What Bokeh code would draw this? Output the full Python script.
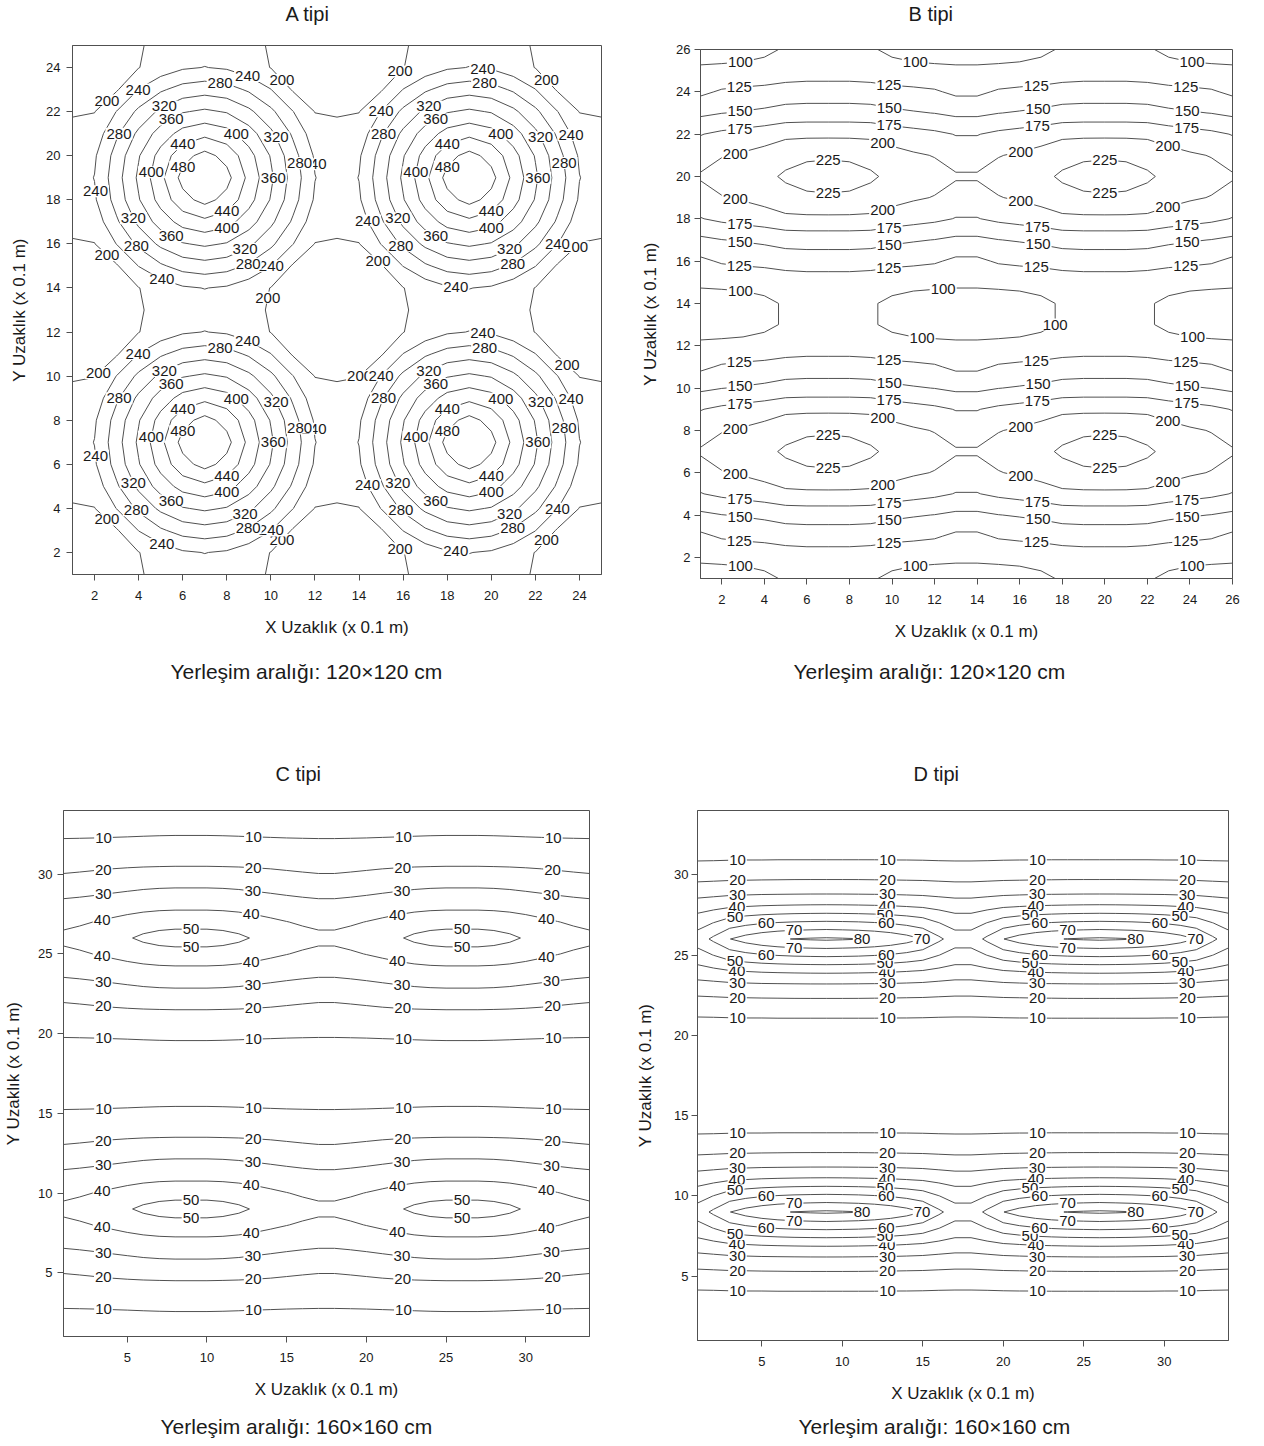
import numpy as np
import contourpy
from bokeh.plotting import figure
from bokeh.layouts import column, row
from bokeh.models import Range1d, FixedTicker, ColumnDataSource, Title
from bokeh.core.properties import value
from bokeh.embed import file_html
from bokeh.resources import INLINE

FONT = "Liberation Sans"
INK = "#1a1a1a"
LINE = "#505050"
AXIS_X = "X Uzaklık (x 0.1 m)"
AXIS_Y = "Y Uzaklık (x 0.1 m)"

# ---------------- A tipi (one repeating cell, offsets 0..6 from a peak) ----------------
A_title = "A tipi"
A_caption = "Yerleşim aralığı: 120×120 cm"
A_levels = [200, 240, 280, 320, 360, 400, 440, 480]
A_ticks = [2, 4, 6, 8, 10, 12, 14, 16, 18, 20, 22, 24]
A_span = (1, 25)
A_period, A_peak = 12, 7
A_dy0 = [510, 493, 430, 367, 304, 241, 222]
A_dy1 = [493, 467, 415, 357, 296, 235, 218]
A_dy2 = [430, 415, 378, 329, 274, 217, 206]
A_dy3 = [367, 357, 329, 289, 241, 199, 198]
A_dy4 = [304, 296, 274, 241, 196, 185, 185]
A_dy5 = [241, 235, 217, 199, 185, 175, 175]
A_dy6 = [222, 218, 206, 198, 185, 175, 168]

# ---------------- B tipi ----------------
B_title = "B tipi"
B_caption = "Yerleşim aralığı: 120×120 cm"
B_levels = [100, 125, 150, 175, 200, 225]
B_ticks = [2, 4, 6, 8, 10, 12, 14, 16, 18, 20, 22, 24, 26]
B_span = (1, 26)
B_period, B_peak = 13, 7
B_dy0 = [236, 234, 228, 220, 214, 208, 203]
B_dy1 = [222, 221, 218, 209, 203, 199, 188]
B_dy2 = [195, 195, 194, 188, 184, 180, 174]
B_dy3 = [160, 160, 159, 155, 152, 149.5, 145]
B_dy4 = [138, 138, 137, 133, 131, 128, 120]
B_dy5 = [112, 112, 110, 107, 105, 104, 103]
B_dy6 = [104, 104, 102, 96, 93, 92, 92]

# ---------------- C tipi ----------------
C_title = "C tipi"
C_caption = "Yerleşim aralığı: 160×160 cm"
C_levels = [10, 20, 30, 40, 50]
C_ticks = [5, 10, 15, 20, 25, 30]
C_span = (1, 34)
C_period, C_peak = 17, 9
C_dy0 = [55, 55, 54, 52, 49, 46, 44, 43, 42]
C_dy1 = [46, 46, 45.5, 44.5, 43, 41.5, 40.2, 39, 38]
C_dy2 = [38, 38, 37.8, 37.3, 36.6, 35.8, 35, 34.2, 33.5]
C_dy3 = [31, 31, 30.8, 30.3, 29.5, 28.6, 27.6, 26.7, 26]
C_dy4 = [24, 24, 23.8, 23.5, 23, 22.4, 21.6, 20.9, 20.3]
C_dy5 = [16, 16, 15.9, 15.8, 15.6, 15.3, 14.9, 14.4, 14]
C_dy6 = [11, 11, 11, 11, 11, 11, 11, 11, 11]
C_dy7 = [8.7, 8.7, 8.6, 8.4, 8.1, 7.8, 7.4, 7.1, 6.8]
C_dy8 = [6.5, 6.5, 6.4, 6.3, 6.0, 5.8, 5.5, 5.2, 5.0]

# ---------------- D tipi ----------------
D_title = "D tipi"
D_caption = "Yerleşim aralığı: 160×160 cm"
D_levels = [10, 20, 30, 40, 50, 60, 70, 80]
D_ticks = [5, 10, 15, 20, 25, 30]
D_span = (1, 34)
D_period, D_peak = 17, 9
D_dy0 = [81.5, 81, 80.3, 79, 77, 74, 69.8, 62, 55]
D_dy1 = [62, 61.7, 61.3, 60.5, 59.3, 57.5, 55.1, 50.2, 46]
D_dy2 = [42, 41.9, 41.7, 41.4, 41, 40.3, 39.4, 37.6, 36]
D_dy3 = [27, 27, 26.9, 26.8, 26.7, 26.4, 26.1, 25.5, 25]
D_dy4 = [17, 17, 17, 16.9, 16.8, 16.7, 16.6, 16.3, 16]
D_dy5 = [9.5, 9.5, 9.5, 9.5, 9.4, 9.4, 9.3, 9.1, 9]
D_dy6 = [6, 6, 6, 6, 6, 6, 6, 6, 6]
D_dy7 = [4, 4, 4, 4, 4, 4, 4, 4, 4]
D_dy8 = [3, 3, 3, 3, 3, 3, 3, 3, 3]


def field(rows, period, peak, span):
    coords = np.arange(span[0], span[1] + 1, dtype=float)
    half = period // 2
    idx = np.abs(((coords - peak + half) % period) - half).astype(int)
    cell = np.array(rows, dtype=float)
    return coords, cell[np.ix_(idx, idx)]


def place_labels(lines, level, sx, sy, theta0, first=40.0, step=150.0, loop_step=125.0):
    xs, ys, ts = [], [], []
    for seg in lines:
        pts = np.asarray(seg, dtype=float)
        if len(pts) < 3:
            continue
        closed = np.allclose(pts[0], pts[-1])
        if closed:
            body = pts[:-1]
            cx = body[:, 0].mean() * sx
            cy = body[:, 1].mean() * sy
            ang = np.arctan2(body[:, 1] * sy - cy, body[:, 0] * sx - cx)
            k = int(np.argmin(np.abs(np.angle(np.exp(1j * (ang - theta0))))))
            pts = np.vstack([body[k:], body[:k + 1]])
        elif pts[0, 0] > pts[-1, 0]:
            pts = pts[::-1]
        dist = np.hypot(np.diff(pts[:, 0]) * sx, np.diff(pts[:, 1]) * sy)
        cum = np.concatenate([[0.0], np.cumsum(dist)])
        total = cum[-1]
        if total < 20:
            continue
        if closed:
            n = max(1, int(round(total / loop_step)))
            spots = [(i + 0.5) * total / n for i in range(n)]
        else:
            spots = []
            s = first if total > first + 12 else total / 2.0
            while s < total - 12:
                spots.append(s)
                s += step
        for s in spots:
            xs.append(float(np.interp(s, cum, pts[:, 0])))
            ys.append(float(np.interp(s, cum, pts[:, 1])))
            ts.append(str(int(level)))
    return xs, ys, ts


def style_axis(ax, label, tick_sd, label_sd):
    ax.axis_label = label
    ax.axis_label_text_font = FONT
    ax.axis_label_text_font_size = "17px"
    ax.axis_label_text_font_style = "normal"
    ax.axis_label_text_color = INK
    ax.axis_label_standoff = label_sd
    ax.major_label_text_font = FONT
    ax.major_label_text_font_size = "13px"
    ax.major_label_text_color = INK
    ax.major_label_standoff = tick_sd
    ax.major_tick_out = 6
    ax.major_tick_in = 0
    ax.minor_tick_line_color = None
    ax.axis_line_color = LINE
    ax.major_tick_line_color = LINE


def gap_title(size):
    return Title(text=" ", text_font_size="1px", standoff=size, text_color="white")


def panel(title, caption, rows, period, peak, span, levels, ticks, g, spread=False):
    coords, Z = field(rows, period, peak, span)
    fw, fh = g["fw"], g["fh"]
    p = figure(frame_width=fw, frame_height=fh,
               x_range=Range1d(*span), y_range=Range1d(*span),
               toolbar_location=None, output_backend="svg",
               min_border_left=g["left"], min_border_right=g["right"],
               min_border_top=g["top"], min_border_bottom=0)
    p.title = None
    p.xgrid.visible = False
    p.ygrid.visible = False
    p.outline_line_color = LINE
    p.outline_line_alpha = 1.0
    p.background_fill_color = "white"
    p.border_fill_color = "white"

    sx = fw / (span[1] - span[0])
    sy = fh / (span[1] - span[0])
    gen = contourpy.contour_generator(coords, coords, Z, line_type="Separate")
    mx, my = [], []
    lx, ly, lt = [], [], []
    nlev = len(levels)
    for j, lev in enumerate(levels):
        lines = gen.lines(lev)
        for seg in lines:
            a = np.asarray(seg)
            mx.append(a[:, 0])
            my.append(a[:, 1])
        if spread:
            theta0 = np.radians(-45 + 75 * (nlev - 1 - j))
        else:
            theta0 = np.pi
        a, b, c = place_labels(lines, lev, sx, sy, theta0)
        lx += a
        ly += b
        lt += c
    p.multi_line(xs=mx, ys=my, line_color=LINE, line_width=1)
    src = ColumnDataSource(dict(x=lx, y=ly, t=lt))
    p.text(x="x", y="y", text="t", source=src, text_align="center",
           text_baseline="middle", text_font=value(FONT), text_font_size="15px",
           text_color=INK, background_fill_color="white", padding=1)

    p.xaxis.ticker = FixedTicker(ticks=ticks)
    p.yaxis.ticker = FixedTicker(ticks=ticks)
    style_axis(p.xaxis[0], AXIS_X, 10, 15)
    style_axis(p.yaxis[0], AXIS_Y, g["ytick_sd"], g["ylab_sd"])

    # title: a gap next to the frame, then the title text outside it
    p.add_layout(gap_title(g["title_gap"]), "above")
    p.add_layout(Title(text=title, align="left", offset=g["title_off"], standoff=0,
                       vertical_align="bottom", text_font=FONT, text_font_size="20px",
                       text_font_style="normal", text_color=INK), "above")
    # caption: below the x axis, after a gap
    p.add_layout(gap_title(g["cap_gap"]), "below")
    p.add_layout(Title(text=caption, align="left", offset=g["cap_off"], standoff=0,
                       vertical_align="top", text_font=FONT, text_font_size="21px",
                       text_font_style="normal", text_color=INK), "below")
    return p


gA = dict(fw=529, fh=529, left=72, right=35, top=45, ytick_sd=6, ylab_sd=14,
          title_gap=18, title_off=213, cap_gap=17, cap_off=98)
gB = dict(fw=532, fh=529, left=64, right=24, top=49, ytick_sd=4, ylab_sd=13,
          title_gap=22, title_off=208, cap_gap=13, cap_off=93)
gC = dict(fw=526, fh=526, left=63, right=44, top=126, ytick_sd=5, ylab_sd=12,
          title_gap=23, title_off=212, cap_gap=10, cap_off=97)
gD = dict(fw=531, fh=530, left=64, right=24, top=126, ytick_sd=3, ylab_sd=16,
          title_gap=23, title_off=216, cap_gap=6, cap_off=101)

pA = panel(A_title, A_caption, [A_dy0, A_dy1, A_dy2, A_dy3, A_dy4, A_dy5, A_dy6],
           A_period, A_peak, A_span, A_levels, A_ticks, gA, spread=True)
pB = panel(B_title, B_caption, [B_dy0, B_dy1, B_dy2, B_dy3, B_dy4, B_dy5, B_dy6],
           B_period, B_peak, B_span, B_levels, B_ticks, gB)
pC = panel(C_title, C_caption, [C_dy0, C_dy1, C_dy2, C_dy3, C_dy4, C_dy5, C_dy6, C_dy7, C_dy8],
           C_period, C_peak, C_span, C_levels, C_ticks, gC)
pD = panel(D_title, D_caption, [D_dy0, D_dy1, D_dy2, D_dy3, D_dy4, D_dy5, D_dy6, D_dy7, D_dy8],
           D_period, D_peak, D_span, D_levels, D_ticks, gD)

layout = column(row(pA, column(pB)), row(pC, pD))
open("out.html", "w").write(file_html(layout, INLINE))
